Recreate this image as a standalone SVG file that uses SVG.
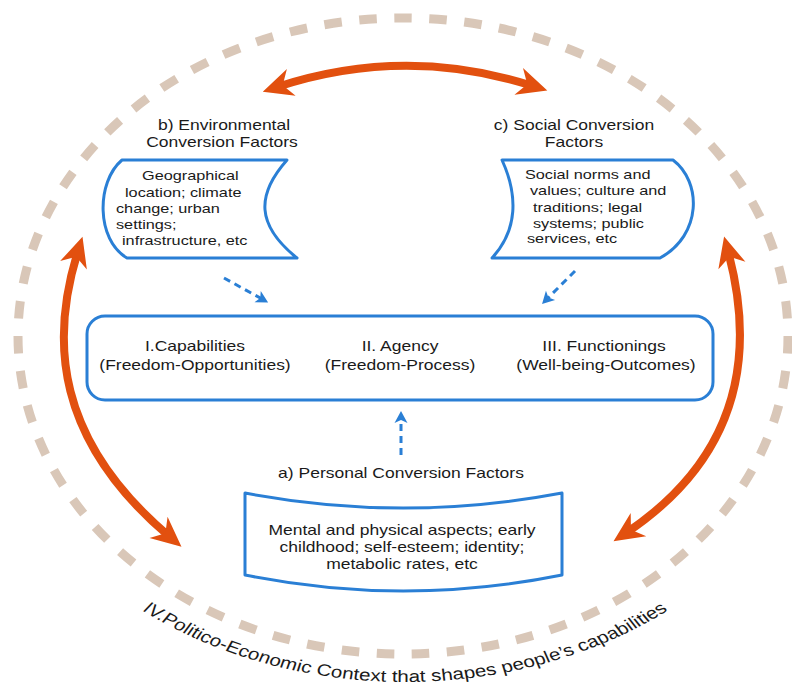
<svg xmlns="http://www.w3.org/2000/svg" width="792" height="690" viewBox="0 0 792 690">
  <defs>
    <style>
      .t { font-family: "Liberation Sans", Arial, sans-serif; fill: #1a1a1a; }
      .f14 { font-size: 14px; }
      .f13 { font-size: 13px; }
      .f16 { font-size: 16.5px; }
      .box { fill: #ffffff; stroke: #2a7fd5; stroke-width: 3; stroke-linejoin: round; }
      .ctx { fill: none; stroke: #d9c7b8; stroke-width: 9; stroke-dasharray: 17.5 17.5; }
      .big { fill: none; stroke: #e2500f; stroke-width: 8; }
      .dash { fill: none; stroke: #2a7fd5; stroke-width: 3; stroke-dasharray: 7 5; }
    </style>
    <marker id="oa" markerUnits="userSpaceOnUse" viewBox="-18 -18 36 36" markerWidth="36" markerHeight="36" refX="0" refY="0" orient="auto-start-reverse">
      <path d="M15,0 L-15,-14 L-6,0 L-15,14 Z" fill="#e2500f"/>
    </marker>
    <marker id="ba" markerUnits="userSpaceOnUse" viewBox="-10 -10 20 20" markerWidth="20" markerHeight="20" refX="0" refY="0" orient="auto">
      <path d="M7,0 L-5,-6.5 L-2,0 L-5,6.5 Z" fill="#2a7fd5"/>
    </marker>
    <path id="ctxPath" d="M -345,337 A 345,345 0 0,0 345,337"/>
  </defs>

  <rect x="0" y="0" width="792" height="690" fill="#ffffff"/>

  <g id="context">
    <ellipse class="ctx" cx="403" cy="336" rx="385" ry="318" pathLength="2205"/>
    <g transform="translate(405,0) scale(1.25,1)">
      <text class="t f16" text-anchor="middle"><textPath href="#ctxPath" startOffset="50%">IV.Politico-Economic Context that shapes people’s capabilities</textPath></text>
    </g>
  </g>

  <g id="connectors">
    <path class="big" d="M277,87 Q405,45 533,86" marker-start="url(#oa)" marker-end="url(#oa)"/>
    <path class="big" d="M78,251 C50,340 55,440 170,537" marker-start="url(#oa)" marker-end="url(#oa)"/>
    <path class="big" d="M728,251 C752,340 750,450 626,533" marker-start="url(#oa)" marker-end="url(#oa)"/>
    <path class="dash" d="M224,278 L262,299" marker-end="url(#ba)"/>
    <path class="dash" d="M575,271 L547,299" marker-end="url(#ba)"/>
    <path class="dash" d="M401,455 L401,418" marker-end="url(#ba)"/>
  </g>

  <g id="environmental">
    <text class="t f14" text-anchor="middle" transform="translate(224,130) scale(1.25,1)">b) Environmental</text>
    <text class="t f14" text-anchor="middle" transform="translate(222,147) scale(1.25,1)">Conversion Factors</text>
    <path class="box" d="M122,160 L287,160 C256,195 256,225 297,258 L127,258 C96,240 96,182 122,160 Z"/>
    <text class="t f13" transform="translate(142,180) scale(1.25,1)">Geographical</text>
    <text class="t f13" transform="translate(125,197) scale(1.25,1)">location; climate</text>
    <text class="t f13" transform="translate(116,213) scale(1.25,1)">change; urban</text>
    <text class="t f13" transform="translate(116,229) scale(1.25,1)">settings;</text>
    <text class="t f13" transform="translate(122,245) scale(1.25,1)">infrastructure, etc</text>
  </g>

  <g id="social">
    <text class="t f14" text-anchor="middle" transform="translate(574,130) scale(1.25,1)">c) Social Conversion</text>
    <text class="t f14" text-anchor="middle" transform="translate(574,147) scale(1.25,1)">Factors</text>
    <path class="box" d="M502,160 L673,160 C702,182 702,235 660,258 L492,258 C518,230 518,195 502,160 Z"/>
    <text class="t f13" transform="translate(525,179) scale(1.25,1)">Social norms and</text>
    <text class="t f13" transform="translate(530,195) scale(1.25,1)">values; culture and</text>
    <text class="t f13" transform="translate(533,212) scale(1.25,1)">traditions; legal</text>
    <text class="t f13" transform="translate(533,228) scale(1.25,1)">systems; public</text>
    <text class="t f13" transform="translate(527,243) scale(1.25,1)">services, etc</text>
  </g>

  <g id="outcomes">
    <rect class="box" x="87" y="316" width="626" height="84" rx="18" ry="18"/>
    <text class="t f14" text-anchor="middle" transform="translate(195,351) scale(1.25,1)">I.Capabilities</text>
    <text class="t f14" text-anchor="middle" transform="translate(195,370) scale(1.25,1)">(Freedom-Opportunities)</text>
    <text class="t f14" text-anchor="middle" transform="translate(400,351) scale(1.25,1)">II. Agency</text>
    <text class="t f14" text-anchor="middle" transform="translate(400,370) scale(1.25,1)">(Freedom-Process)</text>
    <text class="t f14" text-anchor="middle" transform="translate(604,351) scale(1.25,1)">III. Functionings</text>
    <text class="t f14" text-anchor="middle" transform="translate(606,370) scale(1.25,1)">(Well-being-Outcomes)</text>
  </g>

  <g id="personal">
    <text class="t f14" text-anchor="middle" transform="translate(401,478) scale(1.25,1)">a) Personal Conversion Factors</text>
    <path class="box" d="M245,493 Q403,523 562,493 L562,575 Q403,607 245,575 Z"/>
    <text class="t f14" text-anchor="middle" transform="translate(402,535) scale(1.25,1)">Mental and physical aspects; early</text>
    <text class="t f14" text-anchor="middle" transform="translate(402,552) scale(1.25,1)">childhood; self-esteem; identity;</text>
    <text class="t f14" text-anchor="middle" transform="translate(402,569) scale(1.25,1)">metabolic rates, etc</text>
  </g>
</svg>
